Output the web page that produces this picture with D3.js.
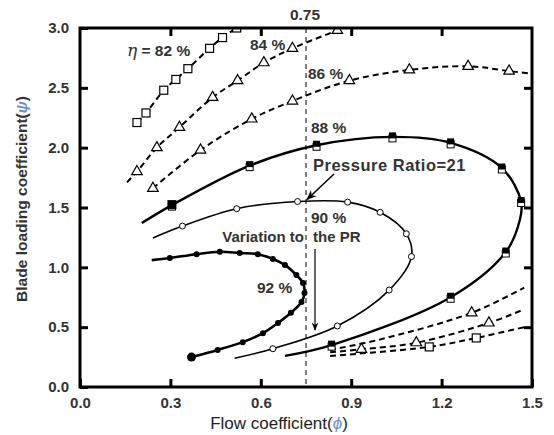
<!DOCTYPE html>
<style>
body { margin: 0; background: #fff; }
text { font-family: 'Liberation Sans', Arial, sans-serif; }
</style>
<svg width="554" height="435"></svg>
<script src="https://d3js.org/d3.v7.min.js"></script>
<script>

// ---- data (phi, psi) ----
const xTicks = [0.0, 0.3, 0.6, 0.9, 1.2, 1.5];
const yTicks = [0.0, 0.5, 1.0, 1.5, 2.0, 2.5, 3.0];
const prLine = 0.75;

// 82 % (dashed, open squares)
const eff82Upper = [[0.189, 2.21], [0.219, 2.29], [0.278, 2.48], [0.318, 2.57], [0.358, 2.66], [0.43, 2.83], [0.473, 2.92], [0.52, 3.0]];
const eff82UpperMarks = eff82Upper;
const eff82Lower = [[0.83, 0.26], [1.159, 0.335], [1.315, 0.41], [1.474, 0.50]];
const eff82LowerMarks = [[1.159, 0.335], [1.315, 0.41]];

// 84 % (dashed, open triangles)
const eff84Upper = [[0.156, 1.71], [0.189, 1.80], [0.255, 2.0], [0.33, 2.17], [0.44, 2.42], [0.523, 2.56], [0.61, 2.71], [0.705, 2.83], [0.854, 2.98]];
const eff84UpperMarks = eff84Upper.slice(1);
const eff84Lower = [[0.83, 0.29], [0.934, 0.315], [1.116, 0.37], [1.357, 0.535], [1.474, 0.65]];
const eff84LowerMarks = [[0.934, 0.315], [1.116, 0.37], [1.357, 0.535]];

// 86 % (dashed, open triangles)
const eff86Upper = [[0.242, 1.66], [0.40, 1.98], [0.57, 2.24], [0.705, 2.39], [0.894, 2.56], [1.093, 2.65], [1.288, 2.68], [1.424, 2.64], [1.49, 2.62]];
const eff86UpperMarks = eff86Upper.slice(0, 8);
const eff86Lower = [[0.83, 0.31], [1.0, 0.40], [1.30, 0.62], [1.474, 0.83]];
const eff86LowerMarks = [[1.30, 0.62]];

// 88 % (solid, squares)
const eff88 = [[0.205, 1.37], [0.305, 1.52], [0.563, 1.85], [0.785, 2.02], [1.037, 2.09], [1.23, 2.04], [1.40, 1.83], [1.464, 1.55], [1.46, 1.40], [1.413, 1.128], [1.23, 0.75], [0.835, 0.35], [0.68, 0.26]];
const eff88Marks = [[0.305, 1.52], [0.563, 1.85], [0.785, 2.02], [1.037, 2.09], [1.23, 2.04], [1.40, 1.83], [1.464, 1.55], [1.413, 1.128], [1.23, 0.75], [0.835, 0.35]];

// 90 % (solid, open circles)
const eff90 = [[0.242, 1.245], [0.34, 1.345], [0.52, 1.49], [0.722, 1.55], [0.888, 1.545], [0.996, 1.46], [1.083, 1.28], [1.10, 1.09], [1.026, 0.81], [0.854, 0.51], [0.64, 0.32], [0.513, 0.24]];
const eff90Marks = [[0.34, 1.345], [0.52, 1.49], [0.722, 1.55], [0.888, 1.545], [0.996, 1.46], [1.083, 1.28], [1.10, 1.09], [1.026, 0.81], [0.854, 0.51], [0.64, 0.32]];

// 92 % (solid, filled dots)
const eff92 = [[0.238, 1.06], [0.298, 1.078], [0.387, 1.11], [0.464, 1.13], [0.53, 1.12], [0.59, 1.11], [0.64, 1.07], [0.68, 1.02], [0.718, 0.935], [0.74, 0.87], [0.745, 0.785], [0.735, 0.71], [0.70, 0.62], [0.657, 0.535], [0.607, 0.45], [0.54, 0.375], [0.457, 0.31], [0.37, 0.25]];
const eff92Marks = eff92.slice(1);

const svg = d3.select('svg');
const margin = {top: 28, right: 22, bottom: 48, left: 80};
const width = 554, height = 435;

const x = d3.scaleLinear().domain([0, 1.5]).range([margin.left, width - margin.right]);
const y = d3.scaleLinear().domain([0, 3]).range([height - margin.bottom, margin.top]);

const fmt = d3.format('.1f');
const plot = svg.append('g');

svg.append('clipPath').attr('id', 'plotclip')
	.append('rect')
	.attr('x', x(0)).attr('y', y(3))
	.attr('width', x(1.5) - x(0)).attr('height', y(0) - y(3));

// vertical dashed line at phi = 0.75
plot.append('line')
	.attr('x1', x(prLine)).attr('x2', x(prLine))
	.attr('y1', y(3)).attr('y2', y(0))
	.attr('stroke', '#000').attr('stroke-width', 1)
	.attr('stroke-dasharray', '5,4');
svg.append('text')
	.attr('x', x(prLine) - 1).attr('y', 20)
	.attr('text-anchor', 'middle')
	.attr('font-size', 15.5).attr('font-weight', 'bold').attr('fill', '#333')
	.text('0.75');

const line = d3.line()
	.x((d) => x(d[0]))
	.y((d) => y(d[1]))
	.curve(d3.curveCatmullRom.alpha(0.5));

const curves = plot.append('g').attr('clip-path', 'url(#plotclip)');

function drawLine(pts, w, dash) {
	curves.append('path')
		.datum(pts)
		.attr('d', line)
		.attr('fill', 'none')
		.attr('stroke', '#000')
		.attr('stroke-width', w)
		.attr('stroke-dasharray', dash || null);
}

const dash = '6,4';
drawLine(eff82Upper, 2, dash);
drawLine(eff82Lower, 2, dash);
drawLine(eff84Upper, 2, dash);
drawLine(eff84Lower, 2, dash);
drawLine(eff86Upper, 2, dash);
drawLine(eff86Lower, 2, dash);
drawLine(eff88, 2.4);
drawLine(eff90, 1.6);
drawLine(eff92, 2.6);

const tri = d3.symbol().type(d3.symbolTriangle).size(48);

function squares(pts, size) {
	curves.selectAll(null)
		.data(pts)
		.enter().append('rect')
		.attr('x', (d) => x(d[0]) - size / 2)
		.attr('y', (d) => y(d[1]) - size / 2)
		.attr('width', size).attr('height', size)
		.attr('fill', '#fff').attr('stroke', '#000').attr('stroke-width', 1.2);
}

function triangles(pts) {
	curves.selectAll(null)
		.data(pts)
		.enter().append('path')
		.attr('d', tri)
		.attr('transform', (d) => `translate(${x(d[0])},${y(d[1])})`)
		.attr('fill', '#fff').attr('stroke', '#000').attr('stroke-width', 1.2);
}

squares(eff82UpperMarks, 8);
squares(eff82LowerMarks, 8);
triangles(eff84UpperMarks);
triangles(eff84LowerMarks);
triangles(eff86UpperMarks);
triangles(eff86LowerMarks);

// 88 %: open square with a filled square on top of it
curves.selectAll(null)
	.data(eff88Marks)
	.enter().append('rect')
	.attr('x', (d) => x(d[0]) - 3.5)
	.attr('y', (d) => y(d[1]) - 2)
	.attr('width', 7).attr('height', 7)
	.attr('fill', '#fff').attr('stroke', '#000').attr('stroke-width', 1);
curves.selectAll(null)
	.data(eff88Marks)
	.enter().append('rect')
	.attr('x', (d, i) => x(d[0]) - (i === 0 ? 4.5 : 3.5))
	.attr('y', (d, i) => y(d[1]) - (i === 0 ? 5 : 4.5))
	.attr('width', (d, i) => i === 0 ? 9 : 7)
	.attr('height', (d, i) => i === 0 ? 9 : 6)
	.attr('fill', '#000');

curves.selectAll(null)
	.data(eff90Marks)
	.enter().append('circle')
	.attr('cx', (d) => x(d[0])).attr('cy', (d) => y(d[1]))
	.attr('r', 3)
	.attr('fill', '#fff').attr('stroke', '#000').attr('stroke-width', 1);

curves.selectAll(null)
	.data(eff92Marks)
	.enter().append('circle')
	.attr('cx', (d) => x(d[0])).attr('cy', (d) => y(d[1]))
	.attr('r', (d, i) => i === eff92Marks.length - 1 ? 4.5 : 3)
	.attr('fill', '#000');

// frame and ticks
const axisFont = (g) => g.selectAll('text')
	.attr('font-size', 15).attr('font-weight', 'bold').attr('fill', '#333')
	.attr('font-family', "'Liberation Sans', Arial, sans-serif");

svg.append('g')
	.attr('transform', `translate(0,${y(0)})`)
	.call(d3.axisBottom(x).tickValues(xTicks).tickFormat(fmt).tickSizeInner(-8).tickSizeOuter(0).tickPadding(10))
	.call((g) => g.select('.domain').remove())
	.call((g) => g.selectAll('line').attr('stroke-width', 3))
	.call(axisFont);

svg.append('g')
	.attr('transform', `translate(0,${y(3)})`)
	.call(d3.axisTop(x).tickValues(xTicks.slice(1, -1)).tickFormat('').tickSizeInner(-8).tickSizeOuter(0))
	.call((g) => g.select('.domain').remove())
	.call((g) => g.selectAll('line').attr('stroke-width', 3));

svg.append('g')
	.attr('transform', `translate(${x(0)},0)`)
	.call(d3.axisLeft(y).tickValues(yTicks).tickFormat(fmt).tickSizeInner(-8).tickSizeOuter(0).tickPadding(11))
	.call((g) => g.select('.domain').remove())
	.call((g) => g.selectAll('line').attr('stroke-width', 3))
	.call(axisFont);

svg.append('g')
	.attr('transform', `translate(${x(1.5)},0)`)
	.call(d3.axisRight(y).tickValues(yTicks.slice(1, -1)).tickFormat('').tickSizeInner(-8).tickSizeOuter(0))
	.call((g) => g.select('.domain').remove())
	.call((g) => g.selectAll('line').attr('stroke-width', 3));

svg.append('rect')
	.attr('x', x(0)).attr('y', y(3))
	.attr('width', x(1.5) - x(0)).attr('height', y(0) - y(3))
	.attr('fill', 'none').attr('stroke', '#000').attr('stroke-width', 3);

// axis titles
const yTitle = svg.append('text')
	.attr('transform', `translate(27,199) rotate(-90)`)
	.attr('text-anchor', 'middle')
	.attr('font-size', 15.5).attr('font-weight', 'bold').attr('fill', '#333');
yTitle.append('tspan').text('Blade loading coefficient(');
yTitle.append('tspan').attr('fill', '#6a8fc8').attr('font-style', 'italic').text('ψ');
yTitle.append('tspan').text(')');

const xTitle = svg.append('text')
	.attr('x', 279).attr('y', 429)
	.attr('text-anchor', 'middle')
	.attr('font-size', 17).attr('fill', '#222');
xTitle.append('tspan').text('Flow coefficient(');
xTitle.append('tspan').attr('fill', '#6a8fc8').attr('font-style', 'italic').text('ϕ');
xTitle.append('tspan').text(')');

// annotations
const notes = svg.append('g')
	.attr('font-size', 15.5).attr('font-weight', 'bold').attr('fill', '#333');

const etaLabel = notes.append('text').attr('x', 127).attr('y', 56);
etaLabel.append('tspan').attr('font-style', 'italic').attr('font-family', "'DejaVu Serif', serif").attr('font-weight', 'normal').attr('font-size', 17).text('η');
etaLabel.append('tspan').text(' = 82 %');
notes.append('text').attr('x', 250).attr('y', 50).text('84 %');
notes.append('text').attr('x', 308).attr('y', 79).text('86 %');
notes.append('text').attr('x', 311).attr('y', 133).text('88 %');
notes.append('text').attr('x', 311).attr('y', 223).text('90 %');
notes.append('text').attr('x', 313).attr('y', 242).attr('font-size', 15).text('the PR');
notes.append('text').attr('x', 304).attr('y', 242).attr('font-size', 15).attr('text-anchor', 'end').text('Variation to');
notes.append('text').attr('x', 257).attr('y', 293).text('92 %');
notes.append('text').attr('x', 313).attr('y', 171).attr('font-size', 16.5).attr('letter-spacing', 0.5).text('Pressure Ratio=21');

svg.append('defs').append('marker')
	.attr('id', 'arrow')
	.attr('viewBox', '0 0 10 10')
	.attr('refX', 9).attr('refY', 5)
	.attr('markerWidth', 7).attr('markerHeight', 7)
	.attr('orient', 'auto')
	.append('path')
	.attr('d', 'M0,1 L10,5 L0,9 L3,5 Z')
	.attr('fill', '#000');

svg.append('line')
	.attr('x1', 334).attr('y1', 174).attr('x2', x(prLine) + 1).attr('y2', y(1.55) - 2)
	.attr('stroke', '#000').attr('stroke-width', 1.5)
	.attr('marker-end', 'url(#arrow)');

svg.append('line')
	.attr('x1', 315).attr('y1', 249).attr('x2', 315).attr('y2', 330)
	.attr('stroke', '#000').attr('stroke-width', 1.2)
	.attr('marker-end', 'url(#arrow)');

</script>
